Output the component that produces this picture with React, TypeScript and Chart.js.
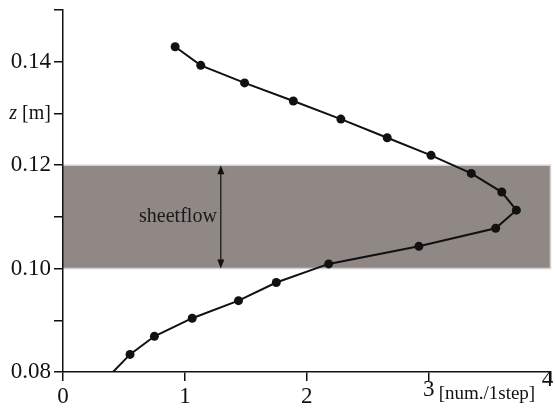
import React, { useEffect, useRef } from 'react';
import { Chart, registerables } from 'chart.js';

Chart.register(...registerables);

// ---- data ----
const rates = [0.92, 1.13, 1.49, 1.89, 2.28, 2.66, 3.02, 3.35, 3.6, 3.72, 3.55, 2.92, 2.18, 1.75, 1.44, 1.06, 0.75, 0.55, 0.41];
const heights = [0.1429, 0.1393, 0.1359, 0.1324, 0.1289, 0.1253, 0.1219, 0.1184, 0.1148, 0.1113, 0.1078, 0.1043, 0.1009, 0.0973, 0.0938, 0.0904, 0.0869, 0.0834, 0.08];
const markerShown = [true, true, true, true, true, true, true, true, true, true, true, true, true, true, true, true, true, true, false];

const xTicks = [0, 1, 2, 3, 4];
const xTickLabels = ['0', '1', '2', '3', '4'];
const yTicks = [0.08, 0.09, 0.1, 0.11, 0.12, 0.13, 0.14, 0.15];
const yTickLabels = ['0.08', '', '0.10', '', '0.12', '', '0.14', ''];
const yTitleValue = 0.13;
const yTitleItalic = 'z';
const yTitleRest = ' [m]';
const xTitle = '[num./1step]';

const bandRange = [0.1, 0.12];
const bandText = 'sheetflow';
const arrowX = 1.295;

// ---- style ----
const FONT = 'Liberation Serif';
const xLabelShift = [
  [0, 0],
  [0, 0],
  [0, 0],
  [0, -7],
  [-3, -17],
];

const overlay = {
  id: 'overlay',
  beforeDraw(chart: any) {
    const { ctx, scales } = chart;
    const x = scales.x;
    const y = scales.y;
    const l = x.getPixelForValue(xTicks[0]);
    const r = x.getPixelForValue(xTicks[xTicks.length - 1]);
    const t = y.getPixelForValue(bandRange[1]);
    const b = y.getPixelForValue(bandRange[0]);
    ctx.save();
    ctx.fillStyle = '#8f8884';
    ctx.fillRect(l, t, r - l, b - t);
    ctx.strokeStyle = '#d2d2d2';
    ctx.lineWidth = 1.5;
    ctx.beginPath();
    ctx.moveTo(l, t);
    ctx.lineTo(r, t);
    ctx.lineTo(r, b);
    ctx.lineTo(l, b);
    ctx.stroke();
    ctx.restore();
  },
  afterDraw(chart: any) {
    const { ctx, scales } = chart;
    const x = scales.x;
    const y = scales.y;
    ctx.save();
    // arrow
    const ax = x.getPixelForValue(arrowX);
    const at = y.getPixelForValue(bandRange[1]);
    const ab = y.getPixelForValue(bandRange[0]);
    ctx.strokeStyle = '#111';
    ctx.fillStyle = '#111';
    ctx.lineWidth = 1.2;
    ctx.beginPath();
    ctx.moveTo(ax, at + 4);
    ctx.lineTo(ax, ab - 4);
    ctx.stroke();
    const hl = 9, hw = 3.5;
    ctx.beginPath();
    ctx.moveTo(ax, at);
    ctx.lineTo(ax - hw, at + hl);
    ctx.lineTo(ax + hw, at + hl);
    ctx.closePath();
    ctx.fill();
    ctx.beginPath();
    ctx.moveTo(ax, ab);
    ctx.lineTo(ax - hw, ab - hl);
    ctx.lineTo(ax + hw, ab - hl);
    ctx.closePath();
    ctx.fill();
    // band label
    ctx.font = `20px "${FONT}"`;
    ctx.fillStyle = '#1a1a1a';
    ctx.textAlign = 'right';
    ctx.textBaseline = 'middle';
    ctx.fillText(bandText, ax - 4, y.getPixelForValue((bandRange[0] + bandRange[1]) / 2));

    // x tick labels
    ctx.fillStyle = '#111';
    ctx.font = `23px "${FONT}"`;
    ctx.textAlign = 'center';
    ctx.textBaseline = 'middle';
    const base = y.getPixelForValue(yTicks[0]);
    xTicks.forEach((v, i) => {
      const [dx, dy] = xLabelShift[i];
      ctx.fillText(xTickLabels[i], x.getPixelForValue(v) + dx, base + 25 + dy);
    });
    // x title
    ctx.font = `19px "${FONT}"`;
    ctx.textAlign = 'left';
    ctx.textBaseline = 'alphabetic';
    ctx.fillText(xTitle, x.getPixelForValue(3) + 10, base + 27);

    // y title
    const yy = y.getPixelForValue(yTitleValue);
    const rightEdge = x.left - 12;
    ctx.textBaseline = 'middle';
    ctx.font = `20px "${FONT}"`;
    const wRest = ctx.measureText(yTitleRest).width;
    ctx.textAlign = 'right';
    ctx.fillText(yTitleRest, rightEdge, yy);
    ctx.font = `italic 20px "${FONT}"`;
    ctx.fillText(yTitleItalic, rightEdge - wRest, yy);
    ctx.restore();
  },
};

export default function App() {
  const ref = useRef<HTMLCanvasElement | null>(null);
  useEffect(() => {
    document.body.style.margin = '0';
    const canvas = ref.current;
    if (!canvas) return;
    Chart.defaults.font.family = FONT;
    const chart = new Chart(canvas, {
      type: 'scatter',
      data: {
        datasets: [
          {
            data: rates.map((v, i) => ({ x: v, y: heights[i] })),
            showLine: true,
            borderColor: '#111',
            borderWidth: 2,
            backgroundColor: '#111',
            pointBackgroundColor: '#111',
            pointBorderWidth: 0,
            pointRadius: markerShown.map((s) => (s ? 4.5 : 0)),
            tension: 0,
          },
        ],
      },
      options: {
        responsive: false,
        animation: false,
        events: [],
        layout: { padding: { top: 10, right: 4, left: 0, bottom: 0 } },
        plugins: { legend: { display: false }, tooltip: { enabled: false } },
        scales: {
          x: {
            type: 'linear',
            min: 0,
            max: 4,
            afterBuildTicks: (s: any) => {
              s.ticks = xTicks.map((v) => ({ value: v }));
            },
            afterFit: (s: any) => {
              s.height = 45;
              s.paddingLeft = 0;
              s.paddingRight = 0;
            },
            ticks: { display: false, autoSkip: false },
            grid: { drawOnChartArea: false, drawTicks: true, tickLength: 9, color: '#111', lineWidth: 1.5 },
            border: { display: true, color: '#111', width: 1.5 },
          },
          y: {
            type: 'linear',
            min: 0.08,
            max: 0.15,
            afterBuildTicks: (s: any) => {
              s.ticks = yTicks.map((v) => ({ value: v }));
            },
            afterFit: (s: any) => {
              s.width = 63;
              s.paddingTop = 0;
              s.paddingBottom = 0;
            },
            ticks: {
              autoSkip: false,
              color: '#111',
              font: { size: 23, family: FONT },
              padding: 3,
              callback: (_v: any, i: number) => yTickLabels[i],
            },
            grid: { drawOnChartArea: false, drawTicks: true, tickLength: 9, color: '#111', lineWidth: 1.5 },
            border: { display: true, color: '#111', width: 1.5 },
          },
        },
      },
      plugins: [overlay],
    } as any);
    return () => chart.destroy();
  }, []);
  return (
    <div style={{ position: 'absolute', left: 0, top: 0 }}>
      <canvas ref={ref} width={555} height={417} style={{ width: 555, height: 417, display: 'block' }} />
    </div>
  );
}
